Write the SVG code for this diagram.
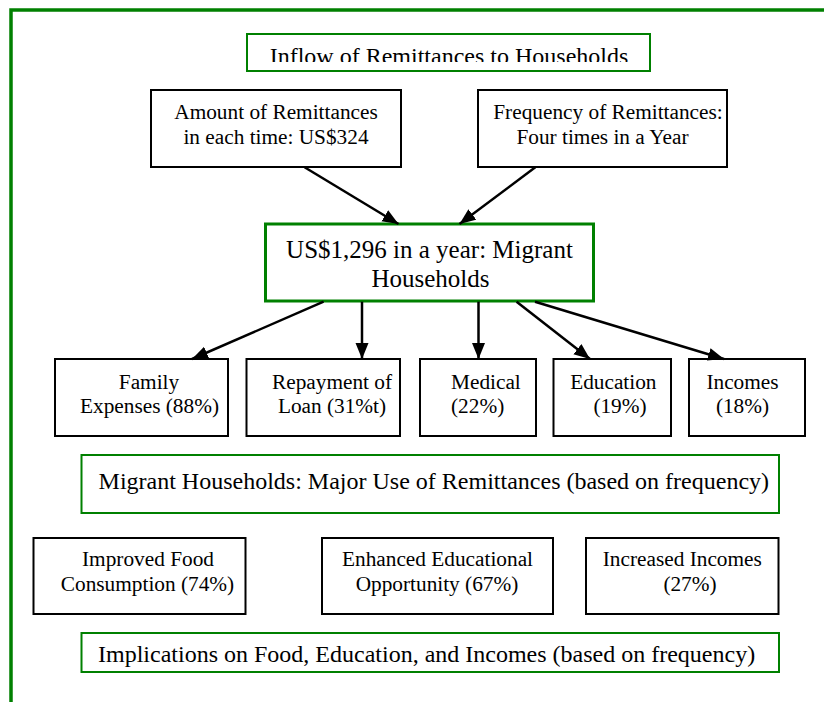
<svg xmlns="http://www.w3.org/2000/svg" width="824" height="702" viewBox="0 0 824 702">
<style>
  text { font-family: "Liberation Serif", "Times New Roman", serif; fill: #000; }
  .s { font-size: 21.3px; }
  .m { font-size: 24px; }
  .l { font-size: 25px; }
  .c { text-anchor: middle; }
  .bx { fill: #fff; stroke: #000; stroke-width: 2; }
  .gx { fill: #fff; stroke: #008000; stroke-width: 2; }
  .gx3 { fill: #fff; stroke: #008000; stroke-width: 3; }
  .ar { stroke: #000; stroke-width: 2.5; fill: none; marker-end: url(#ah); }
</style>
<defs>
  <marker id="ah" markerUnits="userSpaceOnUse" markerWidth="16" markerHeight="14" refX="16" refY="6.5" orient="auto">
    <path d="M0,0 L16,6.5 L0,13 z" fill="#000"/>
  </marker>
  <clipPath id="tclip"><rect x="248" y="35" width="401" height="27"/></clipPath>
</defs>
<rect x="0" y="0" width="824" height="702" fill="#fff"/>
<g id="frame">
  <path d="M11,702 V10 H824" fill="none" stroke="#008000" stroke-width="3.5"/>
</g>
<g id="title">
  <rect class="gx" x="247" y="34" width="403" height="37"/>
  <text class="m c" x="449" y="64" clip-path="url(#tclip)">Inflow of Remittances to Households</text>
</g>
<g id="amount">
  <rect class="bx" x="151" y="90" width="250" height="77"/>
  <text class="s c" x="276" y="119">Amount of Remittances</text>
  <text class="s c" x="276" y="144">in each time: US$324</text>
</g>
<g id="frequency">
  <rect class="bx" x="478" y="90" width="249" height="77"/>
  <text class="s c" x="608" y="119">Frequency of Remittances:</text>
  <text class="s c" x="602.5" y="144">Four times in a Year</text>
</g>
<g id="total">
  <rect class="gx3" x="265.5" y="224" width="328" height="77"/>
  <text class="l c" x="429.5" y="258">US$1,296 in a year: Migrant</text>
  <text class="l c" x="430.5" y="287">Households</text>
</g>
<g id="family">
  <rect class="bx" x="55" y="359" width="173" height="77"/>
  <text class="s c" x="149" y="389">Family</text>
  <text class="s c" x="149.5" y="413">Expenses (88%)</text>
</g>
<g id="repayment">
  <rect class="bx" x="246.5" y="359" width="153.5" height="77"/>
  <text class="s c" x="332" y="389">Repayment of</text>
  <text class="s c" x="332" y="413">Loan (31%t)</text>
</g>
<g id="medical">
  <rect class="bx" x="420" y="359" width="116" height="77"/>
  <text class="s" x="451" y="389">Medical</text>
  <text class="s" x="451" y="413">(22%)</text>
</g>
<g id="education">
  <rect class="bx" x="553.5" y="359" width="117.5" height="77"/>
  <text class="s c" x="613.3" y="389">Education</text>
  <text class="s c" x="620" y="413">(19%)</text>
</g>
<g id="incomes">
  <rect class="bx" x="689" y="359" width="116" height="77"/>
  <text class="s c" x="742.5" y="389">Incomes</text>
  <text class="s c" x="742.5" y="413">(18%)</text>
</g>
<g id="major-use">
  <rect class="gx" x="81.5" y="455" width="697.5" height="58"/>
  <text class="m c" x="433.8" y="489">Migrant Households: Major Use of Remittances (based on frequency)</text>
</g>
<g id="food">
  <rect class="bx" x="33.5" y="538" width="212" height="76"/>
  <text class="s c" x="148" y="566">Improved Food</text>
  <text class="s c" x="147.5" y="591">Consumption (74%)</text>
</g>
<g id="educational">
  <rect class="bx" x="322" y="538" width="231" height="76"/>
  <text class="s c" x="437.5" y="566">Enhanced Educational</text>
  <text class="s c" x="437" y="591">Opportunity (67%)</text>
</g>
<g id="increased-incomes">
  <rect class="bx" x="586" y="538" width="192.5" height="76"/>
  <text class="s c" x="682.3" y="566">Increased Incomes</text>
  <text class="s c" x="690" y="591">(27%)</text>
</g>
<g id="implications">
  <rect class="gx" x="81.5" y="633" width="697.5" height="39"/>
  <text class="m c" x="426.6" y="662">Implications on Food, Education, and Incomes (based on frequency)</text>
</g>
<g id="connectors">
  <line class="ar" x1="304.6" y1="167.3" x2="398.5" y2="224"/>
  <line class="ar" x1="535.3" y1="167.3" x2="459.5" y2="224"/>
  <line class="ar" x1="323.6" y1="301.7" x2="192" y2="359"/>
  <line class="ar" x1="362" y1="301.7" x2="362" y2="359"/>
  <line class="ar" x1="478.5" y1="301.7" x2="478.5" y2="359"/>
  <line class="ar" x1="516.6" y1="301.7" x2="590" y2="359"/>
  <line class="ar" x1="535" y1="301.7" x2="724" y2="359"/>
</g>
</svg>
